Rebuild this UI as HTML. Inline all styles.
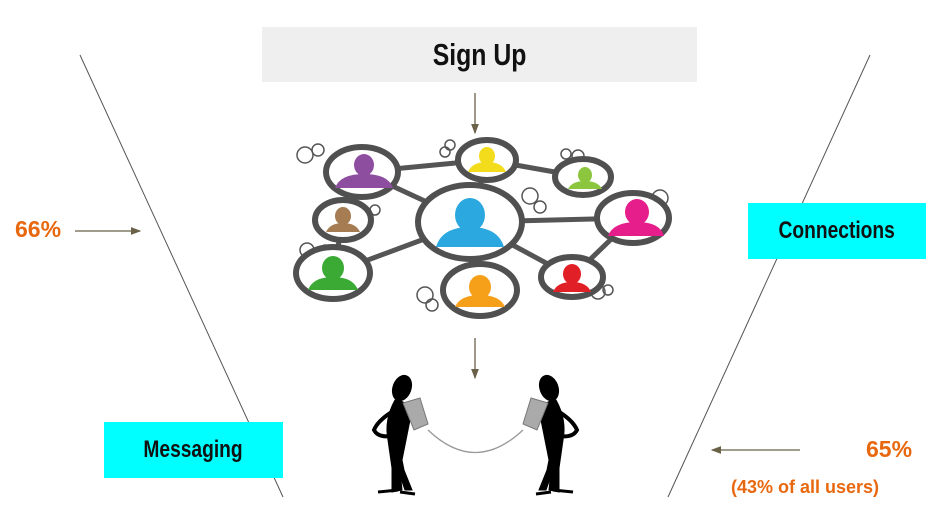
<!DOCTYPE html>
<html><head><meta charset="utf-8"><style>
html,body{margin:0;padding:0;background:#fff;}
body{width:944px;height:518px;position:relative;overflow:hidden;font-family:"Liberation Sans",sans-serif;font-weight:bold;}
.t{position:absolute;display:flex;align-items:center;justify-content:center;color:#111;}
.t span{display:inline-block;transform:scaleX(0.8);}
.o{position:absolute;color:#e8680f;white-space:nowrap;}
</style></head><body>
<svg width="944" height="518" style="position:absolute;left:0;top:0">
<defs><marker id="a" markerWidth="8" markerHeight="8" refX="7" refY="4" orient="auto"><path d="M0,1 L8,4 L0,7z" fill="#6b6148"/></marker></defs>
<line x1="80" y1="55" x2="283" y2="497" stroke="#555" stroke-width="1"/>
<line x1="870" y1="55" x2="668" y2="497" stroke="#555" stroke-width="1"/>
<g stroke="#6b6148" stroke-width="1.3" marker-end="url(#a)">
<line x1="75" y1="231" x2="140" y2="231"/>
<line x1="800" y1="450" x2="712" y2="450"/>
<line x1="475" y1="93" x2="475" y2="133"/>
<line x1="475" y1="338" x2="475" y2="378"/>
</g>
<g stroke="#555" stroke-width="5" fill="none">
<line x1="470" y1="222" x2="362" y2="172"/>
<line x1="470" y1="222" x2="487" y2="160"/>
<line x1="487" y1="160" x2="583" y2="177"/>
<line x1="362" y1="172" x2="487" y2="160"/>
<line x1="470" y1="222" x2="633" y2="218"/>
<line x1="470" y1="222" x2="333" y2="273"/>
<line x1="343" y1="220" x2="333" y2="273"/>
<line x1="470" y1="222" x2="480" y2="290"/>
<line x1="470" y1="222" x2="572" y2="277"/>
<line x1="572" y1="277" x2="633" y2="218"/>
</g>
<g stroke="#555" stroke-width="1.5" fill="none">
<circle cx="305" cy="155" r="8"/><circle cx="318" cy="150" r="6"/><circle cx="445" cy="152" r="5"/><circle cx="450" cy="145" r="5"/>
<circle cx="566" cy="154" r="5"/><circle cx="578" cy="156" r="6"/><circle cx="530" cy="196" r="8"/><circle cx="540" cy="207" r="6"/>
<circle cx="660" cy="198" r="8"/><circle cx="375" cy="210" r="5"/><circle cx="307" cy="250" r="7"/><circle cx="325" cy="248" r="3"/>
<circle cx="425" cy="295" r="8"/><circle cx="432" cy="305" r="6"/><circle cx="598" cy="292" r="7"/><circle cx="608" cy="290" r="5"/>
</g>
<g stroke="#505050" stroke-width="6" fill="#fff">
<ellipse cx="362" cy="172" rx="36" ry="25"/>
<ellipse cx="487" cy="160" rx="29" ry="20"/>
<ellipse cx="583" cy="177" rx="28" ry="18"/>
<ellipse cx="470" cy="222" rx="52" ry="37"/>
<ellipse cx="633" cy="218" rx="36" ry="25"/>
<ellipse cx="343" cy="220" rx="28" ry="20"/>
<ellipse cx="333" cy="273" rx="37" ry="26"/>
<ellipse cx="480" cy="290" rx="37" ry="26"/>
<ellipse cx="572" cy="277" rx="31" ry="20"/>
</g>
<g>
<g fill="#8e4ea0"><ellipse cx="364" cy="165" rx="10" ry="11"/><path d="M335,188 Q340,174 364,174 Q388,174 393,188z"/></g>
<g fill="#f2dc1c"><ellipse cx="487" cy="156" rx="8" ry="9"/><path d="M468,172 Q472,162 487,162 Q502,162 506,172z"/></g>
<g fill="#8cc63f"><ellipse cx="585" cy="175" rx="7" ry="8"/><path d="M568,189 Q572,181 585,181 Q598,181 602,189z"/></g>
<g fill="#2ba8e0"><ellipse cx="470" cy="215" rx="15" ry="17"/><path d="M436,247 Q442,227 470,227 Q498,227 504,247z"/></g>
<g fill="#e61e8c"><ellipse cx="637" cy="212" rx="12" ry="13"/><path d="M608,236 Q613,222 637,222 Q660,222 664,236z"/></g>
<g fill="#a67c52"><ellipse cx="343" cy="216" rx="8" ry="9"/><path d="M326,232 Q330,223 343,223 Q356,223 360,232z"/></g>
<g fill="#3aaa35"><ellipse cx="333" cy="268" rx="11" ry="12"/><path d="M308,290 Q313,277 333,277 Q353,277 358,290z"/></g>
<g fill="#f6a01a"><ellipse cx="480" cy="287" rx="11" ry="12"/><path d="M455,307 Q460,295 480,295 Q500,295 505,307z"/></g>
<g fill="#e01f26"><ellipse cx="572" cy="274" rx="9" ry="10"/><path d="M553,292 Q557,282 572,282 Q587,282 591,292z"/></g>
</g>
<path d="M428,430 Q475,475 523,430" stroke="#999" stroke-width="1.3" fill="none"/>
<g fill="#000" stroke="#000">
<ellipse cx="402" cy="388" rx="9" ry="13" transform="rotate(20 402 388)"/>
<path d="M395,400 Q410,400 410,420 L406,440 L400,470 L402,490 L392,492 L392,468 L388,440 Q384,420 395,400z"/>
<path d="M398,440 L404,470 L412,490 L405,490 L398,470z"/>
<path d="M395,410 Q378,420 374,430 Q378,438 392,436" stroke-width="4" fill="none"/>
<path d="M378,492 L398,490" stroke-width="3"/>
<path d="M400,492 L415,494" stroke-width="3"/>
<ellipse cx="549" cy="388" rx="9" ry="13" transform="rotate(-20 549 388)"/>
<path d="M556,400 Q541,400 541,420 L545,440 L551,470 L549,490 L559,492 L559,468 L563,440 Q567,420 556,400z"/>
<path d="M553,440 L547,470 L539,490 L546,490 L553,470z"/>
<path d="M556,410 Q573,420 577,430 Q573,438 559,436" stroke-width="4" fill="none"/>
<path d="M573,492 L553,490" stroke-width="3"/>
<path d="M551,492 L536,494" stroke-width="3"/>
</g>
<g fill="#aaa" stroke="#777" stroke-width="1">
<path d="M403,403 L420,398 L428,424 L414,430z"/>
<path d="M548,403 L531,398 L523,424 L537,430z"/>
</g>
</svg>
<div class="t" style="left:262px;top:27px;width:435px;height:55px;background:#efefef;font-size:31px;"><span>Sign Up</span></div>
<div class="t" style="left:748px;top:203px;width:178px;height:56px;background:#00ffff;font-size:24px;"><span>Connections</span></div>
<div class="t" style="left:104px;top:422px;width:179px;height:56px;background:#00ffff;font-size:24px;"><span>Messaging</span></div>
<div class="o" style="left:15px;top:216px;font-size:23px;">66%</div>
<div class="o" style="left:866px;top:436px;font-size:23px;">65%</div>
<div class="o" style="left:731px;top:477px;font-size:18px;">(43% of all users)</div>
</body></html>
